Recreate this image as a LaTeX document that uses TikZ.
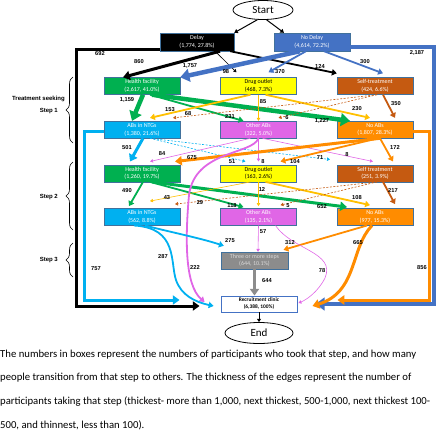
\documentclass[tikz,border=0pt]{standalone}
\usepackage{fontspec}
\setmainfont{Carlito}
\newfontfamily\lblfont{Liberation Sans}
\usetikzlibrary{arrows.meta,shapes.geometric,decorations.pathreplacing,positioning}
\definecolor{nodlyblue}{HTML}{4472C4}
\definecolor{hfgreen}{HTML}{00B050}
\definecolor{doyellow}{HTML}{FFFF00}
\definecolor{dogold}{HTML}{FFC000}
\definecolor{stbrown}{HTML}{C55A11}
\definecolor{ntgblue}{HTML}{00B0F0}
\definecolor{oabpink}{HTML}{E066E6}
\definecolor{noorange}{HTML}{FF8C00}
\definecolor{boxedge}{HTML}{41719C}
\definecolor{threegray}{HTML}{8C8C8C}
\definecolor{threetext}{HTML}{D9D9D9}

\begin{document}
\begin{tikzpicture}[x=1pt,y=-1pt,node distance=43.6pt,
    >={Triangle[length=2pt 1.6,width=2pt 2.4]},
    stage box/.style={draw=boxedge,line width=0.4pt,minimum width=76pt,minimum height=17pt,inner sep=0pt,align=center,text=white,font=\fontsize{6}{7.5}\selectfont},
    dly box/.style={stage box,fill=black,minimum width=74pt,minimum height=18pt},
    nodly box/.style={stage box,fill=nodlyblue,minimum height=18pt},
    hf box/.style={stage box,fill=hfgreen},
    do box/.style={stage box,fill=doyellow,text=black},
    st box/.style={stage box,fill=stbrown},
    ntg box/.style={stage box,fill=ntgblue},
    oab box/.style={stage box,fill=oabpink},
    no box/.style={stage box,fill=noorange},
    three box/.style={stage box,fill=threegray,text=threetext,minimum width=67pt},
    clinic box/.style={stage box,draw=nodlyblue,line width=0.9pt,fill=white,text=black,font=\fontsize{5.4}{7}\selectfont\bfseries,minimum height=16pt},
    terminal/.style={ellipse,draw,line width=0.8pt,inner sep=0pt,font=\fontsize{11}{12}\selectfont},
    over1000/.style={line width=4.5pt},
    over500/.style={line width=3pt},
    over100/.style={line width=1.8pt},
    under100/.style={line width=0.6pt},
    thin dash/.style={dash pattern=on 2pt off 1.5pt},
    lbl/.style={font=\lblfont\bfseries\fontsize{5.7}{6}\selectfont,inner sep=0.5pt},
    steptext/.style={anchor=east,inner sep=0pt,font=\lblfont\bfseries\fontsize{6}{7}\selectfont},
    stepbrace/.style={decorate,decoration={brace,amplitude=7pt},line width=0.6pt},
    caption/.style={anchor=base west,inner sep=0pt,font=\fontsize{10.7}{12}\selectfont}]
    \useasboundingbox (0,0) rectangle (439,440);

    \node[terminal,minimum width=60pt,minimum height=19pt] (start) at (263,10) {Start};
    \node[dly box] (dly) at (197,42) {Delay\\(1,774, 27.8\%)};
    \node[nodly box] (nodly) at (312,42) {No Delay\\(4,614, 72.2\%)};

    \node[hf box] (hfA) at (142,86) {Health facility\\(2,617, 41.0\%)};
    \node[do box] (doA) [node distance=116.5pt,right of=hfA] {Drug outlet\\(468, 7.3\%)};
    \node[st box] (stA) [node distance=116.5pt,right of=doA] {Self-treatment\\(424, 6.6\%)};

    \node[ntg box] (ntgA) [below of=hfA] {ABs in NTGs\\(1,380, 21.6\%)};
    \node[oab box] (oabA) [below of=doA] {Other ABs\\(322, 5.0\%)};
    \node[no box] (noA) [below of=stA] {No ABs\\(1,807, 28.3\%)};

    \node[hf box] (hfB) [below of=ntgA] {Health facility\\(1,260, 19.7\%)};
    \node[do box] (doB) [below of=oabA] {Drug outlet\\(163, 2.6\%)};
    \node[st box] (stB) [below of=noA] {Self treatment\\(251, 3.9\%)};

    \node[ntg box] (ntgB) [below of=hfB] {ABs in NTGs\\(562, 8.8\%)};
    \node[oab box] (oabB) [below of=doB] {Other ABs\\(135, 2.1\%)};
    \node[no box] (noB) [below of=stB] {No ABs\\(977, 15.3\%)};

    \node[three box] (three) at (254.5,260.5) {Three or more steps\\(644, 10.1\%)};
    \node[clinic box] (clinic) at (259,304) {Recruitment clinic\\(6,388, 100\%)};
    \node[terminal,minimum width=68pt,minimum height=21pt] (end) at (259,333) {End};

    \node[steptext] (seeking) at (65,99) {Treatment seeking};
    \node[steptext] (step1) at (58,111) {Step 1};
    \node[steptext] (step2) at (58,197) {Step 2};
    \node[steptext] (step3) at (58,260) {Step 3};
    \draw[stepbrace] (73,143) -- (73,77);
    \draw[stepbrace] (73,230) -- (73,162);
    \draw[stepbrace] (73,277) -- (73,243);

    \path[->]
    (start.240) edge[line width=1pt] (dly.north east)
    (start.290) edge[line width=1pt] ([xshift=-28pt]nodly.north)

    ([xshift=23pt]dly.south) edge[over500] ([xshift=-19pt]hfA.north)
    ([xshift=18pt]dly.south) edge[under100] ([xshift=-22pt,yshift=5pt]doA.north)
    ([xshift=-4pt]dly.south east) edge[over100] ([yshift=4pt]stA.north west)

    ([xshift=-12pt]nodly.south) edge[over1000,nodlyblue] (hfA.north east)
    ([xshift=-6pt]nodly.south) edge[over100,nodlyblue] ([xshift=10pt,yshift=5pt]doA.north)
    ([xshift=12pt]nodly.south) edge[over100,nodlyblue] ([xshift=8pt,yshift=4pt]stA.north)

    ([xshift=1pt]hfA.south) edge[over1000,hfgreen] ([xshift=-10pt]ntgA.north)
    ([xshift=8pt]hfA.south) edge[over100,hfgreen] ([xshift=-15pt]oabA.north)
    ([xshift=10pt]hfA.south) edge[over1000,hfgreen] ([xshift=-25pt]noA.north)
    ([xshift=-8pt]doA.south) edge[over100,dogold] ([xshift=8pt,yshift=3pt]ntgA.north)
    (doA.south) edge[under100,dogold] (oabA.north)
    ([xshift=7pt]doA.south) edge[over100,dogold] ([xshift=-5pt,yshift=3pt]noA.north)
    ([xshift=2pt]stA.south) edge[under100,stbrown,thin dash] ([xshift=31pt,yshift=3pt]ntgA.north)
    ([xshift=2pt]stA.south) edge[under100,stbrown,thin dash] ([xshift=20pt,yshift=3pt]oabA.north)
    ([xshift=8pt]stA.south) edge[over100,stbrown] ([xshift=20pt,yshift=3pt]noA.north)

    ([xshift=1pt]ntgA.south) edge[over500,ntgblue] ([xshift=-12pt,yshift=3pt]hfB.north)
    ([xshift=8pt]ntgA.south) edge[under100,ntgblue,thin dash] ([xshift=-13pt,yshift=3pt]doB.north)
    ([xshift=8pt]ntgA.south) edge[under100,ntgblue,thin dash] ([xshift=-45pt,yshift=5pt]stB.north)
    ([xshift=-8pt]oabA.south) edge[under100,oabpink] ([xshift=8pt,yshift=3pt]hfB.north)
    (oabA.south) edge[under100,oabpink] ([yshift=3pt]doB.north)
    ([xshift=4pt]oabA.south) edge[under100,oabpink] ([xshift=-2pt,yshift=3pt]stB.north)
    ([xshift=5pt]noA.south) edge[over500,noorange] ([xshift=33pt,yshift=3pt]hfB.north)
    ([xshift=3pt]noA.south) edge[over100,noorange] ([xshift=22pt,yshift=3pt]doB.north)
    ([xshift=5pt]noA.south) edge[over100,noorange] ([xshift=18pt,yshift=3pt]stB.north)

    ([xshift=1pt]hfB.south) edge[over100,hfgreen] ([xshift=-13pt,yshift=2pt]ntgB.north)
    ([xshift=8pt]hfB.south) edge[over100,hfgreen] ([xshift=-15pt,yshift=1pt]oabB.north)
    ([xshift=10pt]hfB.south) edge[over500,hfgreen] ([xshift=-28pt,yshift=1pt]noB.north)
    ([xshift=-8pt]doB.south) edge[under100,dogold] ([xshift=8pt,yshift=7pt]ntgB.north)
    (doB.south) edge[under100,dogold] ([yshift=2pt]oabB.north)
    ([xshift=7pt]doB.south) edge[over100,dogold] ([xshift=-5pt,yshift=3pt]noB.north)
    ([xshift=2pt]stB.south) edge[under100,stbrown,thin dash] ([xshift=33pt,yshift=4pt]ntgB.north)
    ([xshift=2pt]stB.south) edge[under100,stbrown,thin dash] ([xshift=22pt,yshift=3pt]oabB.north)
    ([xshift=8pt]stB.south) edge[over100,stbrown] ([xshift=20pt,yshift=4pt]noB.north)

    (oabB.south) edge[under100,oabpink] ([xshift=3.5pt]three.north)
    ([xshift=-8pt]noB.south) edge[over100,noorange] ([xshift=29pt,yshift=2pt]three.north)
    (three.south) edge[over500,threegray] ([xshift=-4.5pt]clinic.north)
    (clinic.south) edge[line width=0.8pt] (end.north);

    \draw[->,over500] ([yshift=-7pt]dly.west) -- ++(-83,0) |- ([xshift=-21pt,yshift=-2pt]clinic.west);
    \draw[->,over1000,nodlyblue] ([yshift=-5pt]nodly.east) -- ++(84,0) |- ([xshift=18pt]clinic.east);
    \draw[->,over500,ntgblue] ([yshift=-2pt]ntgA.west) -- ++(-19,0) |- ([xshift=-41pt,yshift=4pt]clinic.west);
    \draw[->,over500,noorange] ([yshift=-2pt]noA.east) -- ++(16,0) |- ([xshift=40pt,yshift=4pt]clinic.east);
    \draw[->,over100,oabpink] (oabA.south) .. controls (252,155) and (195,150) .. (189,195) .. controls (185,240) and (185,285) .. ([xshift=-16pt,yshift=2pt]clinic.west);
    \draw[->,over100,ntgblue] ([xshift=3pt]ntgB.south) .. controls (170,232) and (200,238) .. ([xshift=3pt,yshift=6pt]three.north west);
    \draw[->,over100,ntgblue] ([xshift=-8pt]ntgB.south) .. controls (178,228) and (170,262) .. (176,280) .. controls (181,295) and (195,302) .. ([xshift=-7pt,yshift=-2pt]clinic.west);
    \draw[->,under100,oabpink] ([xshift=17pt]oabB.south) .. controls (292,250) and (336,252) .. (325,278) .. controls (318,292) and (306,300) .. ([xshift=1pt,yshift=1pt]clinic.east);
    \draw[->,over500,noorange] ([xshift=-3pt]noB.south) .. controls (350,248) and (358,292) .. ([xshift=15pt,yshift=-2pt]clinic.east);

    \path[every node/.style={lbl}]
    (100,54) node (n692) {692}
    (139,62) node (n860) {860}
    (190,66) node (n1757) {1,757}
    (226,72) node (n98) {98}
    (280,72) node (n370) {370}
    (320,67) node (n124) {124}
    (365,62) node (n300) {300}
    (417,53) node (n2187) {2,187}

    (127,100) node (n1159) {1,159}
    (170,110) node (n153) {153}
    (188,114) node (n68) {68}
    (230,117) node (n231) {231}
    (263,102) node (n85) {85}
    (287,118) node (n6) {6}
    (322,121) node (n1227) {1,227}
    (357,109) node (n230) {230}
    (396,104) node (n350) {350}

    (127,148) node (n501) {501}
    (162,154) node (n84) {84}
    (192,158) node (n675) {675}
    (232,162) node (n51) {51}
    (263,162) node (n8a) {8}
    (295,162) node (n104) {104}
    (320,158) node (n71) {71}
    (347,155) node (n8b) {8}
    (395,148) node (n172) {172}

    (127,191) node (n490) {490}
    (167,198) node (n43) {43}
    (200,203) node (n29) {29}
    (232,206) node (n118) {118}
    (262,190) node (n12) {12}
    (288,206) node (n5) {5}
    (322,207) node (n652) {652}
    (357,198) node (n108) {108}
    (393,191) node (n217) {217}

    (96,269) node (n757) {757}
    (163,257) node (n287) {287}
    (230,241) node (n275) {275}
    (195,268) node (n222) {222}
    (263,232) node (n57) {57}
    (290,243) node (n312) {312}
    (322,271) node (n78) {78}
    (358,243) node (n665) {665}
    (422,268) node (n856) {856}
    (267,281) node (n644) {644};

    \node[caption] (cap1) at (0,357) {The numbers in boxes represent the numbers of participants who took that step, and how many};
    \node[caption] (cap2) at (0,380.7) {people transition from that step to others. The thickness of the edges represent the number of};
    \node[caption] (cap3) at (0,404.3) {participants taking that step (thickest- more than 1,000, next thickest, 500-1,000, next thickest 100-};
    \node[caption] (cap4) at (0,428) {500, and thinnest, less than 100).};
\end{tikzpicture}
\end{document}
